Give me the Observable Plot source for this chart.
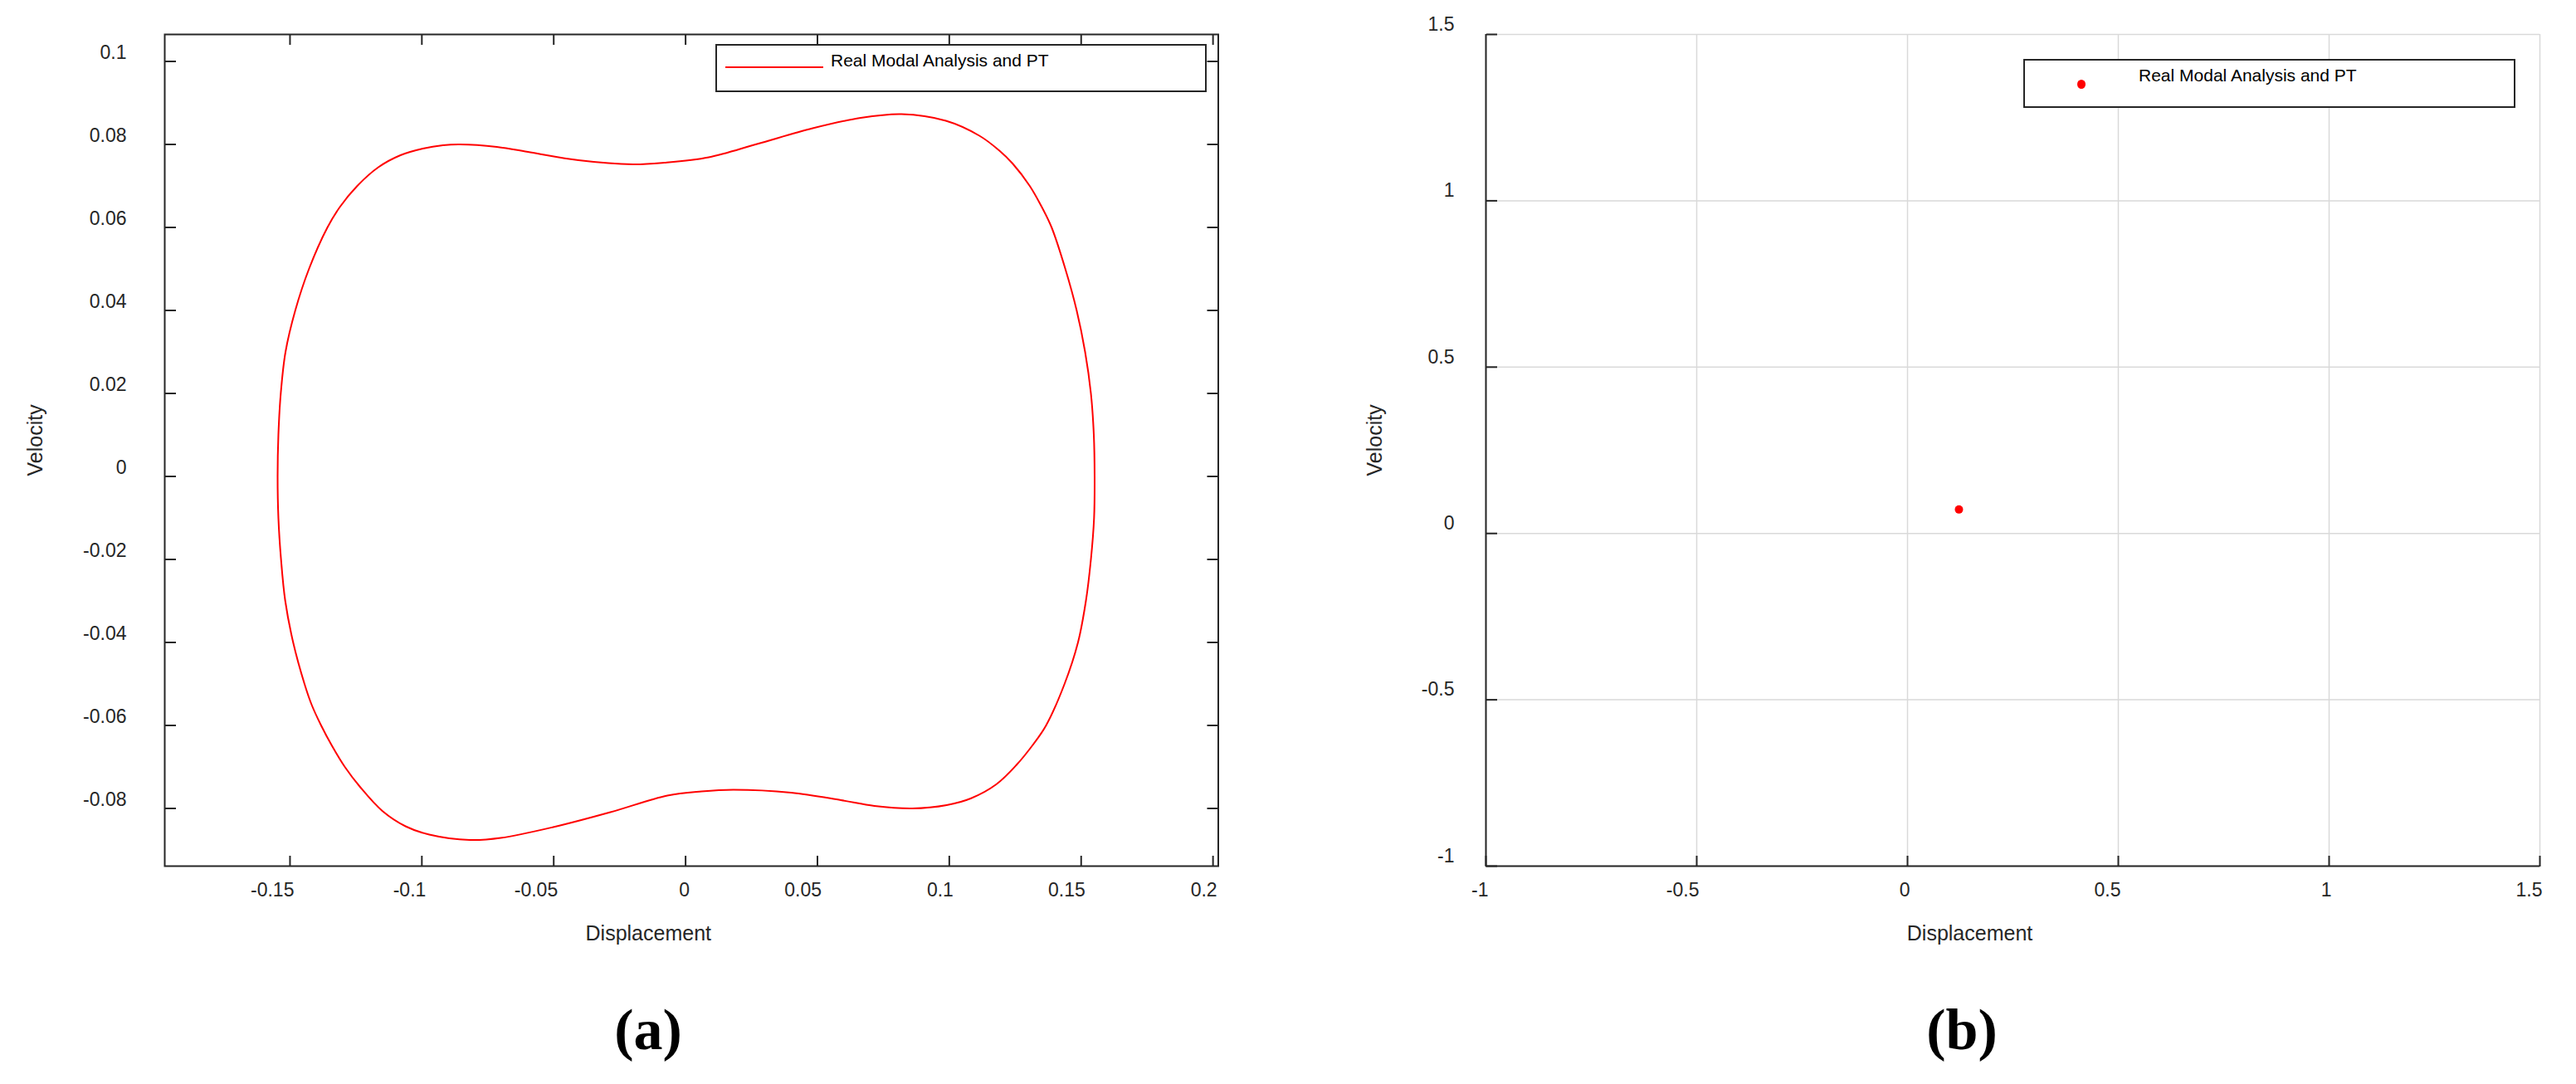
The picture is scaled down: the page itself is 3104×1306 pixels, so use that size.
<!DOCTYPE html>
<html>
<head>
<meta charset="utf-8">
<script src="https://cdn.jsdelivr.net/npm/d3@7"></script>
<script src="https://cdn.jsdelivr.net/npm/@observablehq/plot@0.6"></script>
<style>
  html, body { margin: 0; padding: 0; background: #fff; }
  #root { position: relative; width: 3104px; height: 1306px; overflow: hidden; font-family: "Liberation Sans", Arial, sans-serif; }
  .panel { position: absolute; top: 0; }
  .legend { position: absolute; box-sizing: border-box; border: 2px solid #262626; background: #fff; }
  .legtext { position: absolute; font-size: 21px; line-height: 24px; color: #000; white-space: nowrap; }
  .caption { position: absolute; font-family: "Liberation Serif", "Times New Roman", serif; font-weight: bold; font-size: 70px; line-height: 80px; color: #000; transform: translate(-50%, -50%); }
</style>
</head>
<body>
<div id="root"></div>
<script>
// ---------- Data ----------
const seriesName = "Real Modal Analysis and PT";
const xLabel = "Displacement";
const yLabel = "Velocity";
const captions = ["(a)", "(b)"];

// Panel (a): phase-plane loop (displacement, velocity), clockwise
const loopX = [-0.1547, -0.1544, -0.1535, -0.1517, -0.1480, -0.1428, -0.1358, -0.1310, -0.1245, -0.1165, -0.1081, -0.0996, -0.0920, -0.0856, -0.0716, -0.0589, -0.0406, -0.0200, -0.0080, 0.0088, 0.0271, 0.0482, 0.0664, 0.0819, 0.0987, 0.1114, 0.1190, 0.1240, 0.1305, 0.1350, 0.1388, 0.1440, 0.1483, 0.1515, 0.1537, 0.1548, 0.1551, 0.1549, 0.1537, 0.1518, 0.1488, 0.1437, 0.1367, 0.1319, 0.1255, 0.1178, 0.1081, 0.0990, 0.0860, 0.0716, 0.0589, 0.0400, 0.0180, 0.0060, -0.0069, -0.0285, -0.0502, -0.0701, -0.0818, -0.0972, -0.1062, -0.1150, -0.1232, -0.1292, -0.1340, -0.1382, -0.1418, -0.1445, -0.1488, -0.1518, -0.1534, -0.1544];
const loopY = [0.0000, 0.0100, 0.0200, 0.0300, 0.0400, 0.0500, 0.0600, 0.0650, 0.0700, 0.0745, 0.0774, 0.0790, 0.0798, 0.0800, 0.0794, 0.0781, 0.0762, 0.0752, 0.0756, 0.0769, 0.0801, 0.0839, 0.0864, 0.0873, 0.0857, 0.0821, 0.0785, 0.0754, 0.0700, 0.0650, 0.0600, 0.0500, 0.0400, 0.0300, 0.0200, 0.0100, 0.0000, -0.0100, -0.0200, -0.0300, -0.0400, -0.0500, -0.0600, -0.0645, -0.0695, -0.0742, -0.0776, -0.0792, -0.0800, -0.0794, -0.0780, -0.0762, -0.0755, -0.0759, -0.0769, -0.0809, -0.0845, -0.0871, -0.0876, -0.0863, -0.0843, -0.0806, -0.0750, -0.0700, -0.0650, -0.0600, -0.0550, -0.0500, -0.0400, -0.0300, -0.0200, -0.0100];
const xTicksA = [-0.15, -0.1, -0.05, 0, 0.05, 0.1, 0.15, 0.2];
const yTicksA = [-0.08, -0.06, -0.04, -0.02, 0, 0.02, 0.04, 0.06, 0.08, 0.1];
const xDomainA = [-0.1975, 0.2020];
const yDomainA = [-0.0939, 0.1065];

// Panel (b): a single point
const pointX = [0.122];
const pointY = [0.072];
const xTicksB = [-1, -0.5, 0, 0.5, 1, 1.5];
const yTicksB = [-1, -0.5, 0, 0.5, 1, 1.5];
const xDomainB = [-1, 1.5];
const yDomainB = [-1, 1.5];

// ---------- Drawing ----------
const ink = "#262626";
const font = '"Liberation Sans", Arial, sans-serif';
const W = 1552, H = 1160;
const root = document.getElementById("root");

const loop = loopX.map((x, i) => ({x, y: loopY[i]}));
const pts = pointX.map((x, i) => ({x, y: pointY[i]}));
const fmt = d => String(d);

// inward ticks: tick shape of the opposite side placed on this side
const inTicksX = (side, ticks) => Plot.axisX({anchor: side === "bottom" ? "top" : "bottom", frameAnchor: side, ticks, tickSize: 13, strokeWidth: 2, stroke: ink, fill: "none", label: null});
const inTicksY = (side, ticks) => Plot.axisY({anchor: side === "left" ? "right" : "left", frameAnchor: side, ticks, tickSize: 13, strokeWidth: 2, stroke: ink, fill: "none", label: null});

const plotA = Plot.plot({
  width: W, height: H,
  marginLeft: 198, marginRight: W - 1467.5, marginTop: 41, marginBottom: H - 1043,
  x: {domain: xDomainA, label: null},
  y: {domain: yDomainA, label: null},
  style: {fontFamily: font, fontSize: "23px", color: ink, background: "transparent", overflow: "visible"},
  marks: [
    Plot.line(loop, {x: "x", y: "y", curve: "catmull-rom-closed", stroke: "#ff0000", strokeWidth: 2}),
    Plot.frame({stroke: ink, strokeWidth: 2}),
    inTicksX("bottom", xTicksA),
    inTicksX("top", xTicksA),
    inTicksY("left", yTicksA),
    inTicksY("right", yTicksA),
    Plot.axisX({anchor: "bottom", ticks: xTicksA, tickFormat: fmt, tickSize: 0, tickPadding: 20, textAnchor: "end", dx: 5, fontSize: 23, fill: ink, label: null}),
    Plot.axisY({anchor: "left", ticks: yTicksA, tickFormat: fmt, tickSize: 0, tickPadding: 46, dy: -10, fontSize: 23, fill: ink, label: null}),
    Plot.text([xLabel], {text: d => d, frameAnchor: "bottom", dx: -52, dy: 89, fontSize: 25, fill: ink}),
    Plot.text([yLabel], {text: d => d, frameAnchor: "left", rotate: -90, dx: -155.5, dy: 31, fontSize: 25, fill: ink})
  ]
});

const plotB = Plot.plot({
  width: W, height: H,
  marginLeft: 1790 - W, marginRight: 2 * W - 3060, marginTop: 41, marginBottom: H - 1043,
  x: {domain: xDomainB, label: null},
  y: {domain: yDomainB, label: null},
  style: {fontFamily: font, fontSize: "23px", color: ink, background: "transparent", overflow: "visible"},
  marks: [
    Plot.gridX(xTicksB, {stroke: "#d9d9d9", strokeOpacity: 1, strokeWidth: 1.5}),
    Plot.gridY(yTicksB, {stroke: "#d9d9d9", strokeOpacity: 1, strokeWidth: 1.5}),
    Plot.ruleX([xDomainB[0]], {stroke: ink, strokeWidth: 2}),
    Plot.ruleY([yDomainB[0]], {stroke: ink, strokeWidth: 2}),
    inTicksX("bottom", xTicksB),
    inTicksY("left", yTicksB),
    Plot.axisX({anchor: "bottom", ticks: xTicksB, tickFormat: fmt, tickSize: 0, tickPadding: 20, textAnchor: "end", dx: 3, fontSize: 23, fill: ink, label: null}),
    Plot.axisY({anchor: "left", ticks: yTicksB, tickFormat: fmt, tickSize: 0, tickPadding: 38, dy: -12, fontSize: 23, fill: ink, label: null}),
    Plot.dot(pts, {x: "x", y: "y", r: 5, fill: "#ff0000", stroke: "none"}),
    Plot.text([xLabel], {text: d => d, frameAnchor: "bottom", dx: -52, dy: 89, fontSize: 25, fill: ink}),
    Plot.text([yLabel], {text: d => d, frameAnchor: "left", rotate: -90, dx: -133.5, dy: 31, fontSize: 25, fill: ink})
  ]
});

function place(el, left) {
  const wrap = document.createElement("div");
  wrap.className = "panel";
  wrap.style.left = left + "px";
  wrap.appendChild(el);
  root.appendChild(wrap);
}
place(plotA, 0);
place(plotB, W);

// Legends (inside plot areas)
function legend(box, swatch, textLeft, textMid) {
  const b = document.createElement("div");
  b.className = "legend";
  Object.assign(b.style, {left: box[0] + "px", top: box[1] + "px", width: box[2] + "px", height: box[3] + "px"});
  root.appendChild(b);
  root.appendChild(swatch);
  const t = document.createElement("div");
  t.className = "legtext";
  t.textContent = seriesName;
  Object.assign(t.style, {left: textLeft + "px", top: (textMid - 12) + "px"});
  root.appendChild(t);
}
const lineSw = document.createElement("div");
Object.assign(lineSw.style, {position: "absolute", left: "874px", top: "80px", width: "118px", height: "2px", background: "#ff0000"});
legend([861.5, 52.5, 592.5, 58.5], lineSw, 1001, 72.7);

const dotSw = document.createElement("div");
Object.assign(dotSw.style, {position: "absolute", left: "2503px", top: "95.5px", width: "10px", height: "11px", borderRadius: "50%", background: "#ff0000"});
legend([2437.5, 70.5, 593, 59.5], dotSw, 2577, 90.7);

// Captions
[[781, captions[0]], [2364, captions[1]]].forEach(([cx, txt]) => {
  const c = document.createElement("div");
  c.className = "caption";
  c.textContent = txt;
  Object.assign(c.style, {left: cx + "px", top: "1241px"});
  root.appendChild(c);
});
</script>
</body>
</html>
